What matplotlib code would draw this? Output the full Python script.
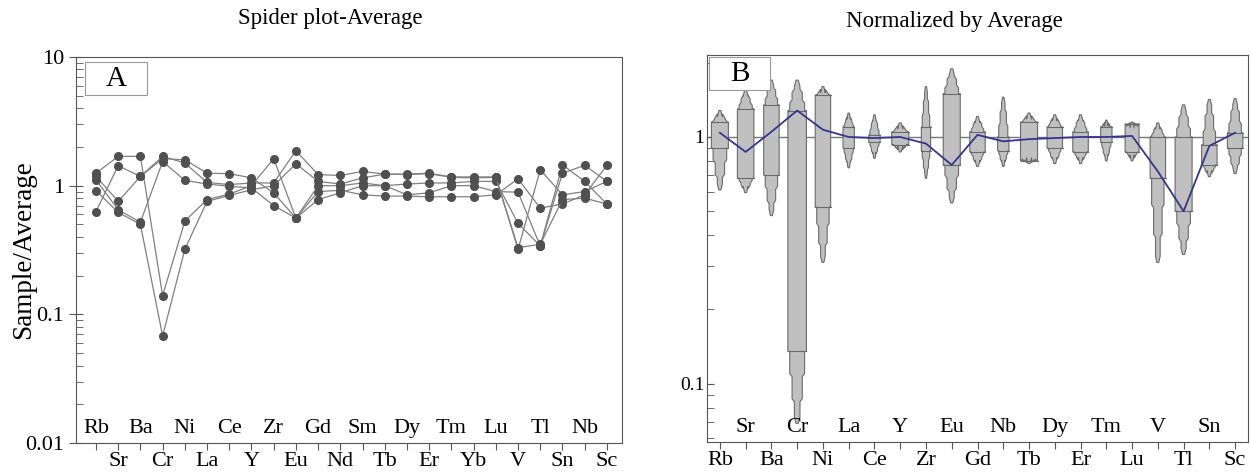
import numpy as np
import matplotlib.pyplot as plt
from matplotlib.patches import Rectangle, Polygon
from matplotlib.ticker import LogLocator, NullFormatter, FixedLocator

plt.rcParams['font.family'] = ['Liberation Serif', 'DejaVu Serif']

# ---- panel A data: spider plot, 5 samples normalised by average ----
elements_a = ['Rb', 'Sr', 'Ba', 'Cr', 'Ni', 'La', 'Ce', 'Y', 'Zr', 'Eu', 'Gd', 'Nd',
              'Sm', 'Tb', 'Dy', 'Er', 'Tm', 'Yb', 'Lu', 'V', 'Tl', 'Sn', 'Nb', 'Sc']
s1 = [1.25, 1.69, 1.69, 0.14, 0.53, 0.78, 0.86, 1.00, 1.62, 0.56, 0.90, 0.92,
      0.85, 0.83, 0.83, 0.82, 0.82, 0.82, 0.85, 1.13, 0.67, 0.72, 0.85, 1.44]
s2 = [1.18, 0.755, 1.18, 1.62, 1.59, 1.25, 1.24, 1.15, 0.88, 0.56, 1.00, 1.00,
      1.05, 1.00, 1.03, 1.05, 1.05, 1.08, 1.08, 0.51, 0.34, 1.45, 1.08, 0.72]
s3 = [0.63, 1.43, 1.18, 1.69, 1.50, 1.06, 1.02, 1.05, 1.05, 1.87, 1.22, 1.20,
      1.29, 1.23, 1.23, 1.25, 1.17, 1.17, 1.17, 0.32, 1.33, 0.85, 0.90, 1.08]
s4 = [1.11, 0.65, 0.52, 1.54, 1.10, 1.03, 0.99, 0.96, 0.70, 0.56, 0.78, 0.88,
      1.00, 1.00, 0.85, 0.88, 1.00, 1.00, 0.90, 0.89, 0.34, 1.25, 1.44, 1.08]
s5 = [0.915, 0.62, 0.50, 0.068, 0.32, 0.755, 0.84, 0.93, 1.00, 1.48, 1.08, 1.03,
      1.15, 1.23, 1.22, 1.24, 1.16, 1.15, 1.16, 0.33, 0.35, 0.78, 0.80, 0.72]

# ---- panel B data: distribution per element, normalised by average ----
elements_b = ['Rb', 'Sr', 'Ba', 'Cr', 'Ni', 'La', 'Ce', 'Y', 'Zr', 'Eu', 'Gd',
              'Nb', 'Tb', 'Dy', 'Er', 'Tm', 'Lu', 'V', 'Tl', 'Sn', 'Sc']
b_min = [0.61, 0.595, 0.48, 0.069, 0.31, 0.75, 0.82, 0.87, 0.68, 0.54, 0.76,
         0.76, 0.78, 0.78, 0.78, 0.80, 0.80, 0.31, 0.334, 0.69, 0.71]
b_q1 = [0.90, 0.68, 0.70, 0.135, 0.52, 0.90, 0.95, 0.93, 0.88, 0.77, 0.87,
        0.88, 0.80, 0.90, 0.87, 0.95, 0.87, 0.68, 0.50, 0.77, 0.90]
b_q3 = [1.15, 1.30, 1.35, 1.28, 1.48, 1.10, 1.02, 1.05, 1.10, 1.50, 1.05,
        1.00, 1.15, 1.10, 1.05, 1.10, 1.13, 1.00, 1.00, 0.93, 1.04]
b_max = [1.28, 1.55, 1.70, 1.70, 1.60, 1.25, 1.23, 1.14, 1.60, 1.89, 1.21,
         1.45, 1.25, 1.23, 1.23, 1.17, 1.15, 1.14, 1.35, 1.42, 1.43]
b_width = [0.33, 0.32, 0.30, 0.36, 0.30, 0.22, 0.22, 0.33, 0.18, 0.33, 0.30,
           0.22, 0.33, 0.30, 0.30, 0.22, 0.27, 0.30, 0.33, 0.30, 0.30]
b_mean = [1.04, 0.87, 1.05, 1.28, 1.07, 1.00, 0.99, 1.00, 0.94, 0.77, 1.02,
          0.96, 0.98, 0.99, 1.00, 1.00, 1.01, 0.725, 0.50, 0.92, 1.04]

fig = plt.figure(figsize=(12.5, 4.72), dpi=100)
ax1 = fig.add_axes([0.0608, 0.0614, 0.4368, 0.8178])
ax2 = fig.add_axes([0.5656, 0.0636, 0.4328, 0.8199])

spine_col = '#555555'
for ax in (ax1, ax2):
    for sp in ax.spines.values():
        sp.set_color(spine_col)
        sp.set_linewidth(0.8)
    ax.set_yscale('log')


def alt_labels(ax, names, inside_even):
    xt = ax.get_xaxis_transform()
    for i, n in enumerate(names):
        inside = (i % 2 == 0) == inside_even
        if inside:
            ax.text(i, 0.037, n, transform=xt, ha='center', va='center', fontsize=16)
        else:
            ax.text(i, -0.047, n, transform=xt, ha='center', va='center', fontsize=16)


# ---- panel A ----
xa = np.arange(len(elements_a))
for s in (s1, s2, s3, s4, s5):
    ax1.plot(xa, s, '-', color='#808080', lw=0.9, marker='o', ms=5.5,
             mfc='#505050', mec='#505050', zorder=3)
ax1.set_xlim(-0.9, 23.68)
ax1.set_ylim(0.01, 10)
ax1.set_xticks(xa)
ax1.set_xticklabels([])
ax1.tick_params(axis='x', direction='out', length=5, color=spine_col)
ax1.set_yticks([0.01, 0.1, 1, 10])
ax1.set_yticklabels(['0.01', '0.1', '1', '10'], fontsize=16)
ax1.yaxis.set_minor_locator(LogLocator(base=10, subs=np.arange(2, 10)))
ax1.yaxis.set_minor_formatter(NullFormatter())
ax1.tick_params(axis='y', which='major', direction='inout', length=10, color=spine_col)
ax1.tick_params(axis='y', which='minor', direction='in', length=5, color=spine_col)
ax1.set_ylabel('Sample/Average', fontsize=19.5)
ax1.yaxis.set_label_coords(-0.073, 0.5)
ax1.set_title('Spider plot-Average', fontsize=16.5, pad=24, x=0.465)
alt_labels(ax1, elements_a, inside_even=True)
ax1.add_patch(Rectangle((0.016, 0.902), 0.114, 0.085, transform=ax1.transAxes,
                        fc='white', ec='#999999', lw=0.8, zorder=4))
ax1.text(0.073, 0.944, 'A', transform=ax1.transAxes, ha='center', va='center',
         fontsize=21, zorder=5)

# ---- panel B ----
xb = np.arange(len(elements_b))
ax2.axhline(1, color='#777777', lw=1.0, zorder=1)
for i in xb:
    lo, q1, q3, hi, w = (np.log10(b_min[i]), np.log10(b_q1[i]), np.log10(b_q3[i]),
                         np.log10(b_max[i]), b_width[i])
    # stepped, tapered outline from min to max, widest between the quartiles
    yb1 = lo + 0.3 * (q1 - lo)
    yb2 = lo + 0.65 * (q1 - lo)
    yt2 = q3 + 0.35 * (hi - q3)
    yt1 = q3 + 0.7 * (hi - q3)
    tip = 0.025
    prof = [(lo, 0.12 * w), (lo + tip, 0.3 * w), (yb1, 0.3 * w), (yb1 + tip / 2, 0.55 * w),
            (yb2, 0.55 * w), (yb2 + tip / 2, 0.8 * w), (q1, 0.8 * w), (q1, w),
            (q3, w), (q3, 0.8 * w), (yt2 - tip / 2, 0.8 * w), (yt2, 0.55 * w),
            (yt1 - tip / 2, 0.55 * w), (yt1, 0.3 * w), (hi - tip, 0.3 * w), (hi, 0.12 * w)]
    right = [(i + hw, 10 ** y) for y, hw in prof]
    left = [(i - hw, 10 ** y) for y, hw in prof[::-1]]
    ax2.add_patch(Polygon(right + left, closed=True, fc='#c0c0c0', ec='#6a6a6a',
                          lw=0.8, zorder=2))
    ax2.plot([i - w, i + w], [b_q1[i], b_q1[i]], color='#6a6a6a', lw=0.8, zorder=2)
    ax2.plot([i - w, i + w], [b_q3[i], b_q3[i]], color='#6a6a6a', lw=0.8, zorder=2)
ax2.plot(xb, b_mean, color='#353590', lw=1.3, zorder=3)
ax2.set_xlim(-0.5, 20.5)
ax2.set_ylim(0.058, 2.15)
ax2.set_xticks(xb)
ax2.set_xticklabels([])
ax2.tick_params(axis='x', direction='out', length=5, color=spine_col)
ax2.yaxis.set_major_locator(FixedLocator([0.1, 1]))
ax2.set_yticklabels(['0.1', '1'], fontsize=14)
ax2.yaxis.set_minor_locator(LogLocator(base=10, subs=np.arange(2, 10)))
ax2.yaxis.set_minor_formatter(NullFormatter())
ax2.tick_params(axis='y', which='major', direction='in', length=5, color=spine_col, pad=2)
ax2.tick_params(axis='y', which='minor', direction='in', length=5, color=spine_col)
ax2.set_title('Normalized by Average', fontsize=16.5, pad=20, x=0.458)
alt_labels(ax2, elements_b, inside_even=False)
ax2.add_patch(Rectangle((0.004, 0.91), 0.113, 0.085, transform=ax2.transAxes,
                        fc='white', ec='#999999', lw=0.8, zorder=4))
ax2.text(0.06, 0.952, 'B', transform=ax2.transAxes, ha='center', va='center',
         fontsize=21, zorder=5)

fig.savefig('out.png', dpi=100)
